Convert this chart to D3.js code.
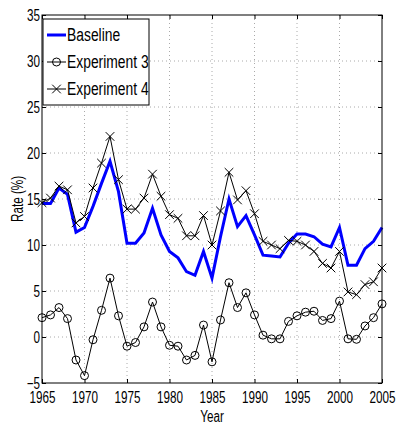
<!DOCTYPE html>
<html>
<head>
<meta charset="utf-8">
<script src="https://d3js.org/d3.v7.min.js"></script>
<style>
	body { margin: 0; background: #fff; }
	text { font-family: "Liberation Sans", Arial, sans-serif; }
</style>
</head>
<body>
<svg id="chart" width="396" height="430"></svg>
<script>
var years = d3.range(1965, 2006);
var baseline = [14.5, 14.5, 16.2, 15.5, 11.4, 11.9, 14.2, 16.7, 19.1, 15.8,
	10.2, 10.2, 11.3, 14.0, 11.1, 9.3, 8.6, 7.1, 6.7, 9.3,
	6.4, 10.9, 15.0, 12.0, 13.2, 11.1, 8.9, 8.8, 8.7, 10.2,
	11.2, 11.2, 10.9, 10.1, 9.8, 11.9, 7.8, 7.8, 9.6, 10.4, 11.9];
var experiment3 = [2.1, 2.4, 3.2, 2.0, -2.5, -4.2, -0.3, 2.9, 6.4, 2.3,
	-1.0, -0.6, 1.1, 3.8, 1.1, -0.9, -1.0, -2.5, -2.0, 1.3,
	-2.7, 1.85, 5.9, 3.2, 4.8, 2.4, 0.2, -0.2, -0.2, 1.7,
	2.3, 2.7, 2.8, 1.8, 2.0, 3.9, -0.2, -0.25, 1.2, 2.1, 3.6];
var experiment4 = [14.6, 15.1, 16.4, 16.0, 12.4, 13.1, 16.2, 18.9, 21.8, 17.1,
	13.9, 13.9, 15.1, 17.7, 15.3, 13.3, 12.9, 11.0, 11.0, 13.2,
	10.0, 13.7, 17.9, 14.9, 15.9, 13.4, 10.4, 10.0, 9.6, 10.5,
	10.4, 10.0, 9.3, 8.0, 7.5, 9.3, 4.9, 4.6, 5.7, 6.0, 7.5];
var xTicks = [1965, 1970, 1975, 1980, 1985, 1990, 1995, 2000, 2005];
var yTicks = [-5, 0, 5, 10, 15, 20, 25, 30, 35];
var seriesNames = ['Baseline', 'Experiment 3', 'Experiment 4'];

var margin = {top: 15, right: 14, bottom: 47, left: 42},
	svg = d3.select('#chart'),
	width = 396 - margin.left - margin.right,
	height = 430 - margin.top - margin.bottom;

var x = d3.scaleLinear().domain([1965, 2005]).range([0, width]),
	y = d3.scaleLinear().domain([-5, 35]).range([height, 0]);

var panel = svg.append('g').attr('transform', 'translate(' + margin.left + ',' + margin.top + ')');

// dotted grid
panel.append('g').selectAll('line').data(xTicks.slice(1, -1)).enter().append('line')
	.attr('x1', function (d) { return x(d); }).attr('x2', function (d) { return x(d); })
	.attr('y1', 0).attr('y2', height)
	.style('stroke', '#aaa').style('stroke-width', 1).style('stroke-dasharray', '1,3');
panel.append('g').selectAll('line').data(yTicks.slice(1, -1)).enter().append('line')
	.attr('y1', function (d) { return y(d); }).attr('y2', function (d) { return y(d); })
	.attr('x1', 0).attr('x2', width)
	.style('stroke', '#aaa').style('stroke-width', 1).style('stroke-dasharray', '1,3');

// axes with inward ticks, matlab style
function styleAxis(g) {
	g.select('.domain').remove();
	g.selectAll('line').style('stroke', '#000');
	g.selectAll('text').style('font-size', '16px').style('fill', '#000');
}
panel.append('g').attr('transform', 'translate(0,' + height + ')')
	.call(d3.axisBottom(x).tickValues(xTicks).tickFormat(d3.format('d')).tickSizeInner(-4).tickSizeOuter(0).tickPadding(9))
	.call(styleAxis);
panel.append('g')
	.call(d3.axisTop(x).tickValues(xTicks).tickFormat('').tickSizeInner(-4).tickSizeOuter(0))
	.call(styleAxis);
panel.append('g')
	.call(d3.axisLeft(y).tickValues(yTicks).tickSizeInner(-4).tickSizeOuter(0).tickPadding(2))
	.call(styleAxis);
panel.append('g').attr('transform', 'translate(' + width + ',0)')
	.call(d3.axisRight(y).tickValues(yTicks).tickFormat('').tickSizeInner(-4).tickSizeOuter(0))
	.call(styleAxis);

var line = d3.line()
	.x(function (d, i) { return x(years[i]); })
	.y(function (d) { return y(d); });

panel.append('path').datum(baseline).attr('d', line)
	.style('fill', 'none').style('stroke', '#0000ff').style('stroke-width', 3);

panel.append('path').datum(experiment3).attr('d', line)
	.style('fill', 'none').style('stroke', '#000').style('stroke-width', 1);
panel.append('g').selectAll('circle').data(experiment3).enter().append('circle')
	.attr('cx', function (d, i) { return x(years[i]); })
	.attr('cy', function (d) { return y(d); })
	.attr('r', 4)
	.style('fill', 'none').style('stroke', '#000').style('stroke-width', 1);

panel.append('path').datum(experiment4).attr('d', line)
	.style('fill', 'none').style('stroke', '#000').style('stroke-width', 1);
var cross = d3.symbol().type(d3.symbolX).size(50);
panel.append('g').selectAll('path').data(experiment4).enter().append('path')
	.attr('transform', function (d, i) { return 'translate(' + x(years[i]) + ',' + y(d) + ')'; })
	.attr('d', cross)
	.style('fill', 'none').style('stroke', '#000').style('stroke-width', 1);

// plot frame
panel.append('rect').attr('width', width).attr('height', height)
	.style('fill', 'none').style('stroke', '#000').style('stroke-width', 1);

// legend
var legend = panel.append('g').attr('transform', 'translate(1,4)');
legend.append('rect').attr('width', 106).attr('height', 86)
	.style('fill', '#fff').style('stroke', '#000').style('stroke-width', 1);
var items = legend.selectAll('g.item').data(seriesNames).enter().append('g')
	.attr('class', 'item')
	.attr('transform', function (d, i) { return 'translate(0,' + (16 + i * 27) + ')'; });
items.append('line').attr('x1', 4).attr('x2', 23).attr('y1', 0).attr('y2', 0)
	.style('stroke', function (d, i) { return i === 0 ? '#0000ff' : '#000'; })
	.style('stroke-width', function (d, i) { return i === 0 ? 3 : 1; });
items.filter(function (d, i) { return i === 1; }).append('circle')
	.attr('cx', 13.5).attr('cy', 0).attr('r', 4)
	.style('fill', 'none').style('stroke', '#000');
items.filter(function (d, i) { return i === 2; }).append('path')
	.attr('transform', 'translate(13.5,0)').attr('d', cross)
	.style('fill', 'none').style('stroke', '#000');
items.append('text').attr('class', 'legend-label').attr('x', 24).attr('dy', '0.36em')
	.style('font-size', '18px').text(function (d) { return d; });

// axis titles
svg.append('text').attr('x', margin.left + width / 2).attr('y', 422)
	.attr('text-anchor', 'middle').style('font-size', '16px').text('Year');
svg.append('text').attr('transform', 'translate(23,199) rotate(-90)')
	.attr('text-anchor', 'middle').style('font-size', '16px').text('Rate (%)');

// condensed look of the original font: squeeze every label horizontally
svg.selectAll('text').each(function () {
	var t = d3.select(this), len = this.getComputedTextLength(),
		k = t.classed('legend-label') ? 0.77 : 0.73;
	if (len > 0) t.attr('textLength', (len * k).toFixed(1)).attr('lengthAdjust', 'spacingAndGlyphs');
});
</script>
</body>
</html>
